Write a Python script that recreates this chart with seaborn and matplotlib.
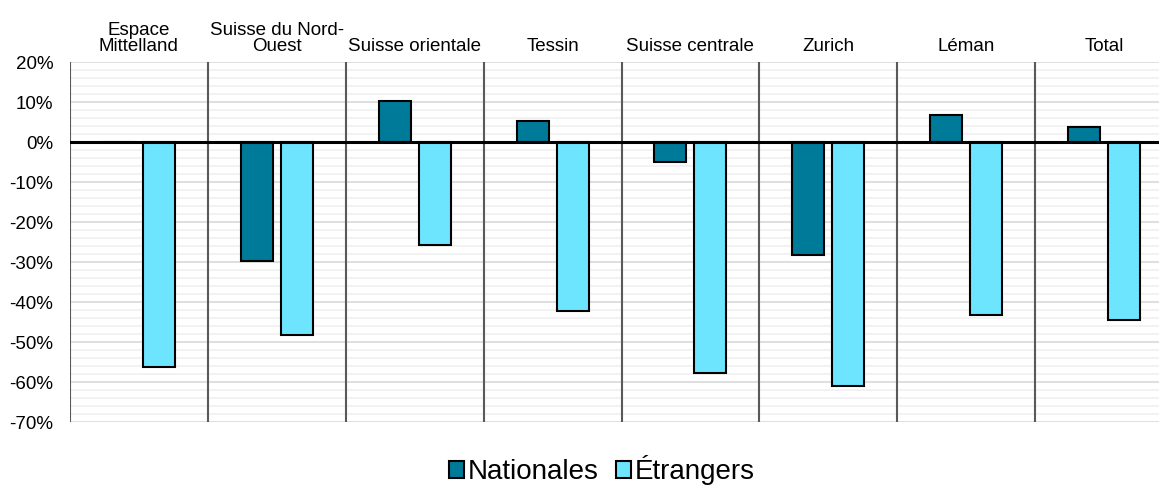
import pandas as pd
import seaborn as sns
import matplotlib.pyplot as plt
from matplotlib.ticker import MultipleLocator, PercentFormatter

# Data (in %)
regions = ['Espace\nMittelland', 'Suisse du Nord-\nOuest', 'Suisse orientale', 'Tessin',
           'Suisse centrale', 'Zurich', 'Léman', 'Total']
nationales = [0.0, -29.7, 10.25, 5.25, -5.0, -28.25, 6.75, 3.8]
etrangers = [-56.25, -48.25, -25.75, -42.25, -57.8, -61.0, -43.25, -44.5]
series = ['Nationales', 'Étrangers']
colors = ['#007A99', '#6EE5FF']

df = pd.DataFrame({
    'Region': regions * 2,
    'Type': [series[0]] * len(regions) + [series[1]] * len(regions),
    'Value': nationales + etrangers,
})

sns.set_style('white')
plt.rcParams['font.family'] = ['Liberation Sans', 'DejaVu Sans']
plt.rcParams['axes.unicode_minus'] = False
plt.rcParams['text.color'] = 'black'

fig = plt.figure(figsize=(11.59, 4.86), dpi=100)
ax = fig.add_axes([70 / 1159, 1 - 422 / 486, 1103 / 1159, 360 / 486])

# Gridlines (Excel style: minor every 2 %, major every 10 %)
ax.set_ylim(-70, 20)
ax.yaxis.set_major_locator(MultipleLocator(10))
ax.yaxis.set_minor_locator(MultipleLocator(2))
ax.grid(which='minor', axis='y', color='#f0f0f0', lw=1.2, zorder=0)
ax.grid(which='major', axis='y', color='#d9d9d9', lw=1.2, zorder=0)
ax.set_axisbelow(True)

sns.barplot(data=df, x='Region', y='Value', hue='Type', palette=colors,
            saturation=1, width=0.58, gap=0.2, edgecolor='black', linewidth=1.5,
            ax=ax, zorder=3)

ax.axhline(0, color='black', lw=2.2, zorder=4)
for i in range(len(regions) + 1):
    ax.axvline(i - 0.5, color='#595959', lw=1.5, zorder=2)
ax.set_xlim(-0.5, len(regions) - 0.5)

for s in ax.spines.values():
    s.set_visible(False)

ax.yaxis.set_major_formatter(PercentFormatter(decimals=0))
ax.tick_params(axis='y', which='both', length=0, labelsize=13.5, pad=12,
               labelcolor='black')
ax.xaxis.tick_top()
ax.tick_params(axis='x', length=0, labelsize=13.5, pad=5, labelcolor='black')
for lbl in ax.get_xticklabels():
    lbl.set_linespacing(0.95)
ax.set_xlabel('')
ax.set_ylabel('')

handles, labels = ax.get_legend_handles_labels()
ax.legend(handles, labels, loc='center', bbox_to_anchor=(602 / 1159, 1 - 470 / 486),
          bbox_transform=fig.transFigure, ncol=2, frameon=False, fontsize=20,
          handlelength=0.55, handleheight=0.55, handletextpad=0.15, columnspacing=0.6)

fig.savefig('out.png', dpi=100)
